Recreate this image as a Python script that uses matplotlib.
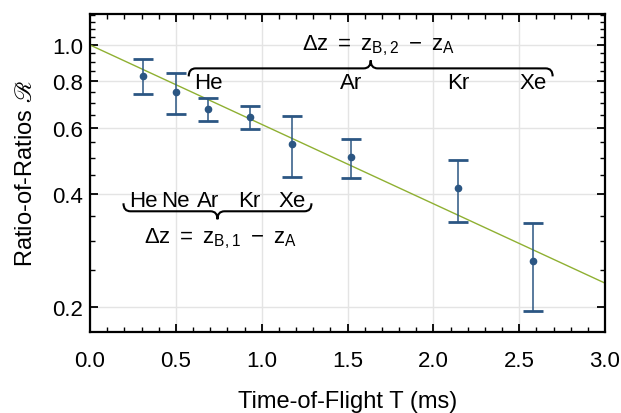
import matplotlib
matplotlib.use("Agg")
import matplotlib.pyplot as plt
import matplotlib.transforms as mtransforms
from matplotlib.path import Path
from matplotlib.patches import PathPatch
from matplotlib.ticker import FixedLocator, MultipleLocator, FormatStrFormatter, NullFormatter
import numpy as np

# measured ratio-of-ratios against time of flight
tof = [0.31, 0.50, 0.69, 0.93, 1.175, 1.52, 2.145, 2.58]
ratio = [0.828, 0.750, 0.676, 0.641, 0.544, 0.502, 0.415, 0.265]
err_hi = [0.917, 0.843, 0.723, 0.687, 0.646, 0.562, 0.493, 0.335]
err_lo = [0.741, 0.654, 0.627, 0.597, 0.445, 0.441, 0.337, 0.194]

# exponential fit (a straight line on the log axis)
fit_tof = [0.0, 3.0]
fit_ratio = [1.0, 0.231]

# gas labels and the points they belong to
gases_b1 = ["He", "Ne", "Ar", "Kr", "Xe"]
idx_b1 = [0, 1, 2, 3, 4]
gases_b2 = ["He", "Ar", "Kr", "Xe"]
idx_b2 = [2, 5, 6, 7]

BLUE = "#2b5683"
GREEN = "#8fb032"

plt.rcParams["font.family"] = ["Liberation Sans", "DejaVu Sans"]
plt.rcParams["mathtext.fontset"] = "custom"
plt.rcParams["mathtext.rm"] = "Liberation Sans"
plt.rcParams["mathtext.it"] = "Liberation Sans"
plt.rcParams["mathtext.sf"] = "Liberation Sans"
plt.rcParams["mathtext.bf"] = "Liberation Sans:bold"


def draw_brace(ax, trans, x1, x2, y0, up, rx, ry, lw=1.5):
    """Horizontal curly brace from x1 to x2 at height y0; tip up if up=True."""
    s = 1 if up else -1
    xm = (x1 + x2) / 2
    verts = [(x1, y0 - s * ry), (x1, y0), (x1 + rx, y0),
             (xm - rx, y0),
             (xm, y0), (xm, y0 + s * ry),
             (xm, y0), (xm + rx, y0),
             (x2 - rx, y0),
             (x2, y0), (x2, y0 - s * ry)]
    codes = [Path.MOVETO, Path.CURVE3, Path.CURVE3,
             Path.LINETO,
             Path.CURVE3, Path.CURVE3,
             Path.CURVE3, Path.CURVE3,
             Path.LINETO,
             Path.CURVE3, Path.CURVE3]
    ax.add_patch(PathPatch(Path(verts, codes), transform=trans, fill=False,
                           lw=lw, color="black", clip_on=False))


fig = plt.figure(figsize=(6.21, 4.14), dpi=100)
ax = fig.add_axes([90 / 621, 81 / 414, 515 / 621, 318 / 414])

ax.set_yscale("log")
ax.set_xlim(0, 3.0)
ax.set_ylim(0.171, 1.21)

ax.plot(fit_tof, fit_ratio, color=GREEN, lw=1.0, zorder=2)

lo = np.array(ratio) - np.array(err_lo)
hi = np.array(err_hi) - np.array(ratio)
ax.errorbar(tof, ratio, yerr=[lo, hi], fmt="o", ms=4.5, color=BLUE,
            elinewidth=1.1, capsize=7, capthick=2, zorder=3)

# ticks and grid
ax.xaxis.set_major_locator(MultipleLocator(0.5))
ax.xaxis.set_minor_locator(MultipleLocator(0.1))
ax.xaxis.set_major_formatter(FormatStrFormatter("%.1f"))
ax.yaxis.set_major_locator(FixedLocator([0.2, 0.4, 0.6, 0.8, 1.0]))
ax.yaxis.set_minor_locator(FixedLocator(np.arange(0.15, 1.21, 0.05)))
ax.yaxis.set_major_formatter(FormatStrFormatter("%.1f"))
ax.yaxis.set_minor_formatter(NullFormatter())
ax.tick_params(which="both", direction="in", top=True, right=True, labelsize=16)
ax.tick_params(which="major", length=6, width=1.3)
ax.tick_params(which="minor", length=3.5, width=1.0)
ax.tick_params(axis="x", pad=13)
ax.tick_params(axis="y", pad=5)
ax.grid(True, which="major", color="#e4e4e4", lw=1.0, zorder=0)
ax.set_axisbelow(True)
for sp in ax.spines.values():
    sp.set_linewidth(1.6)

ax.set_xlabel("Time-of-Flight T (ms)", fontsize=17, labelpad=14)
ax.set_ylabel(r"Ratio-of-Ratios $\mathscr{R}$", fontsize=17, labelpad=11,
              math_fontfamily="stix")

# brace annotations: x in data, y in axes fraction
trans = mtransforms.blended_transform_factory(ax.transData, ax.transAxes)
rx = 7 * 3.0 / 515
ry = 8 / 318

x_b1 = [tof[i] for i in idx_b1]
x_b2 = [tof[i] for i in idx_b2]

for g, x in zip(gases_b1, x_b1):
    ax.text(x, 0.397, g, transform=trans, ha="center", va="baseline", fontsize=16)
draw_brace(ax, trans, min(x_b1) - 0.115, max(x_b1) + 0.115, 0.3796, False, rx, ry)
ax.text((min(x_b1) + max(x_b1)) / 2 + 0.015, 0.283, r"$\Delta z\ =\ z_{B,1}\ -\ z_A$",
        transform=trans, ha="center", va="baseline", fontsize=16)

for g, x in zip(gases_b2, x_b2):
    ax.text(x, 0.767, g, transform=trans, ha="center", va="baseline", fontsize=16)
draw_brace(ax, trans, min(x_b2) - 0.115, max(x_b2) + 0.115, 0.829, True, rx, ry)
ax.text((min(x_b2) + max(x_b2)) / 2 + 0.045, 0.89, r"$\Delta z\ =\ z_{B,2}\ -\ z_A$",
        transform=trans, ha="center", va="baseline", fontsize=16)

fig.savefig("out.png", dpi=100)
